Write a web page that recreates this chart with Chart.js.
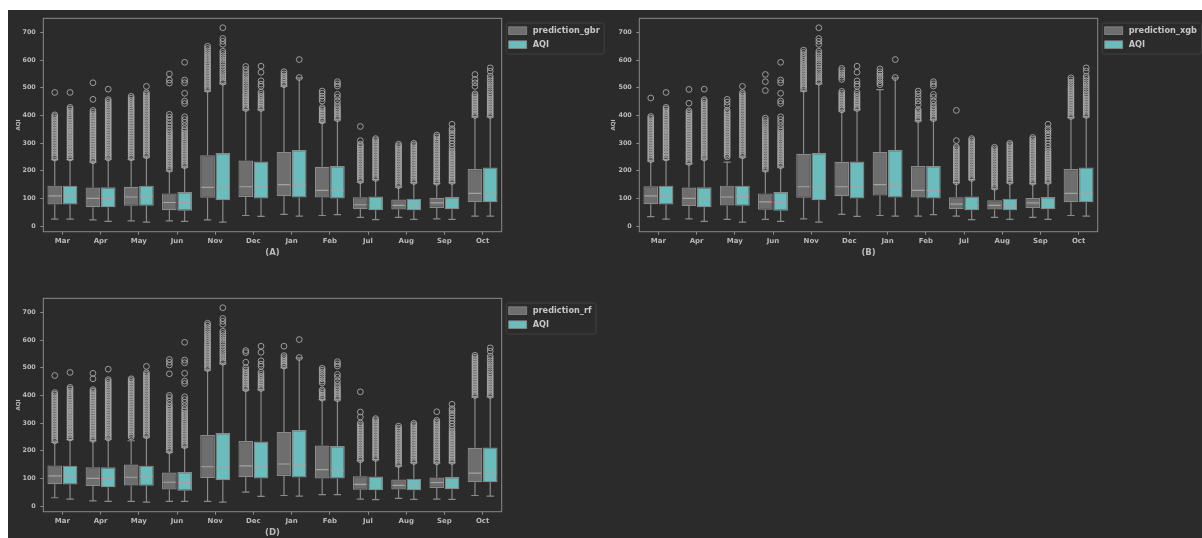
<!DOCTYPE html>
<html>
<head>
<meta charset="utf-8">
<script src="https://cdn.jsdelivr.net/npm/chart.js@4.4.1/dist/chart.umd.min.js"></script>
<style>
  html, body { margin: 0; padding: 0; background: #ffffff; width: 1202px; height: 538px; overflow: hidden; }
  #stage { position: absolute; left: 8px; top: 10px; width: 1194px; height: 528px; background: #2b2b2b; }
  .panel { position: absolute; }
  canvas { display: block; }
</style>
</head>
<body>
<div id="stage"></div>
<div class="panel" style="left:8px;top:10px;"><canvas id="chartA" width="597" height="248"></canvas></div>
<div class="panel" style="left:603px;top:10px;"><canvas id="chartB" width="599" height="248"></canvas></div>
<div class="panel" style="left:8px;top:290px;"><canvas id="chartD" width="597" height="248"></canvas></div>
<script>
// Months in plotting order
const months = ['Mar', 'Apr', 'May', 'Jun', 'Nov', 'Dec', 'Jan', 'Feb', 'Jul', 'Aug', 'Sep', 'Oct'];
const yTicks = [0, 100, 200, 300, 400, 500, 600, 700];

// Observed AQI: whisker ends, quartiles, medians, outliers
const aqiLo  = [25, 17, 14, 17, 14, 35, 36, 41, 23, 24, 24, 36];
const aqiQ1  = [78, 68, 73, 55, 93, 100, 103, 100, 57, 57, 61, 86];
const aqiMed = [109, 100, 107, 85, 140, 142, 148, 128, 74, 75, 82, 118];
const aqiQ3  = [146, 140, 146, 123, 264, 233, 275, 217, 107, 99, 105, 212];
const aqiHi  = [240, 242, 249, 213, 514, 420, 536, 384, 168, 156, 156, 395];
const aqiOut = [
  [246,251,257,262,268,274,279,285,291,296,302,308,313,319,325,331,336,342,348,353,359,365,371,377,383,389,395,402,409,416,423,429,483],
  [246,252,258,263,269,275,281,287,293,299,305,311,317,323,329,335,341,347,353,359,365,371,377,383,389,395,401,407,413,419,425,431,438,444,451,457,495],
  [254,260,266,272,278,284,290,296,302,308,314,320,326,332,338,344,350,356,362,368,374,380,386,392,398,404,410,416,422,428,434,440,446,452,458,464,470,476,482,505],
  [218,224,230,236,242,248,254,260,266,272,278,284,290,296,302,308,315,322,329,336,344,352,363,375,385,395,443,452,480,518,528,592],
  [520,527,535,543,551,558,566,575,584,592,600,608,616,624,632,657,668,678,717],
  [425,431,437,443,449,455,462,469,476,484,505,513,525,556,578],
  [537,602],
  [388,394,400,406,412,418,424,431,440,452,466,476,506,514,522],
  [172,178,184,190,196,202,208,214,220,226,232,238,244,250,256,262,268,274,280,286,292,298,304,310,316],
  [161,167,173,179,185,191,197,203,209,215,221,227,233,239,245,251,257,263,269,275,281,287,293,299],
  [161,167,173,179,185,191,197,203,209,215,221,227,233,239,245,251,257,263,270,278,288,298,308,318,328,337,345,352,368],
  [400,406,412,418,424,430,436,442,448,454,460,466,472,478,486,494,502,510,518,526,534,542,560,572]
];

// Gradient boosting predictions
const gbrLo  = [25, 22, 19, 19, 22, 38, 42, 38, 31, 31, 26, 36];
const gbrQ1  = [78, 68, 73, 57, 102, 105, 108, 103, 61, 60, 65, 86];
const gbrMed = [109, 100, 105, 85, 140, 142, 150, 129, 77, 75, 84, 118];
const gbrQ3  = [146, 139, 142, 118, 256, 237, 268, 214, 104, 96, 102, 206];
const gbrHi  = [240, 231, 240, 199, 488, 420, 506, 375, 159, 141, 153, 395];
const gbrOut = [
  [246,252,258,264,270,276,282,288,294,300,306,312,318,324,330,336,342,348,354,360,366,372,378,384,390,396,402,483],
  [236,242,248,254,260,266,272,278,284,290,296,302,308,314,320,326,332,338,344,350,356,362,368,374,380,386,392,398,404,411,418,458,518],
  [247,253,259,265,271,277,283,289,295,301,307,313,319,325,331,337,343,349,355,361,367,373,379,385,391,397,403,409,415,421,427,434,441,448,455,462,469],
  [205,211,217,223,229,235,241,247,253,259,265,271,277,283,289,295,301,307,313,319,325,331,337,344,352,362,372,383,394,404,517,528,550],
  [494,500,506,512,518,524,530,536,542,548,554,560,566,572,578,584,590,597,604,611,618,626,634,642,650],
  [425,431,437,443,449,455,461,467,473,479,486,493,500,508,516,524,532,540,547,556,566,577],
  [511,517,523,529,536,543,550,558],
  [380,386,392,398,404,410,416,422,428,452,461,470,480,488],
  [164,170,176,182,188,194,200,206,212,218,224,230,236,242,248,254,260,266,272,278,284,290,296,309,360],
  [146,152,158,164,170,176,182,188,194,200,206,212,218,224,230,236,242,248,254,260,266,272,278,284,290,296],
  [158,164,170,176,182,188,194,200,206,212,218,224,230,236,242,248,254,260,266,272,278,284,290,296,302,308,315,322,329],
  [400,406,412,418,424,430,436,442,448,454,460,466,472,478,505,518,530,548]
];

// XGBoost predictions
const xgbLo  = [34, 26, 24, 24, 26, 42, 38, 36, 36, 31, 31, 38];
const xgbQ1  = [79, 72, 74, 59, 102, 108, 110, 103, 61, 60, 65, 86];
const xgbMed = [109, 100, 105, 87, 142, 142, 150, 129, 79, 75, 84, 118];
const xgbQ3  = [144, 139, 146, 118, 261, 232, 268, 217, 104, 93, 101, 206];
const xgbHi  = [235, 225, 231, 199, 488, 416, 493, 380, 157, 134, 153, 392];
const xgbOut = [
  [240,246,252,258,264,270,276,282,288,294,300,306,312,318,324,330,336,342,348,354,360,366,372,378,384,390,396,463],
  [230,236,242,248,254,260,266,272,278,284,290,296,302,308,314,320,326,332,338,344,350,356,362,368,374,380,386,392,398,404,410,416,444,494],
  [250,256,262,268,274,280,286,292,298,304,310,316,322,328,334,340,346,352,358,364,370,376,382,388,394,400,406,412,419,436,448,458],
  [205,211,217,223,229,235,241,247,253,259,265,271,277,283,289,295,301,307,313,319,325,331,337,343,350,358,366,374,382,390,490,522,548],
  [495,501,507,513,519,525,531,537,543,549,555,561,567,573,579,585,592,599,606,613,620,628,636],
  [420,426,432,438,444,450,456,462,468,474,480,487,530,538,546,554,562,570],
  [511,518,526,534,542,550,558,568],
  [385,391,397,403,409,415,421,440,452,465,478,488],
  [160,166,172,178,184,190,196,202,208,214,220,226,232,238,244,250,256,262,268,274,280,286,309,418],
  [140,146,152,158,164,170,176,182,188,194,200,206,212,218,224,230,236,242,248,254,260,266,272,278,285],
  [158,164,170,176,182,188,194,200,206,212,218,224,230,236,242,248,254,260,266,272,278,284,290,296,302,308,314,320],
  [396,402,408,414,420,426,432,438,444,450,456,462,468,474,480,486,492,498,505,512,520,528,536]
];

// Random forest predictions
const rfLo  = [30, 19, 17, 17, 17, 50, 38, 41, 25, 28, 25, 38];
const rfQ1  = [79, 72, 74, 60, 101, 104, 109, 100, 59, 60, 65, 86];
const rfMed = [109, 100, 104, 86, 142, 145, 152, 132, 78, 75, 85, 119];
const rfQ3  = [147, 140, 150, 121, 257, 235, 268, 219, 108, 96, 103, 211];
const rfHi  = [230, 236, 236, 194, 491, 419, 500, 385, 164, 144, 156, 394];
const rfOut = [
  [236,242,248,254,260,266,272,278,284,290,296,302,308,314,320,326,332,338,344,350,356,362,368,374,380,386,392,398,404,410,472],
  [241,247,253,259,265,271,277,283,289,295,301,307,313,319,325,331,337,343,349,355,361,367,373,379,385,391,397,403,409,415,421,460,480],
  [250,256,262,268,274,280,286,292,298,304,310,316,322,328,334,340,346,352,358,364,370,376,382,388,394,400,406,412,418,424,430,436,442,448,454,460],
  [200,206,212,218,224,230,236,242,248,254,260,266,272,278,284,290,296,302,308,314,320,326,332,338,344,350,356,362,370,380,392,400,478,510,520,530],
  [497,503,509,515,521,527,533,539,545,551,557,563,569,575,581,587,594,601,608,615,622,630,638,646,654,661],
  [424,430,436,442,448,454,460,466,472,478,485,492,500,520,555,562],
  [506,512,518,524,530,537,544,578],
  [390,396,402,408,414,420,445,452,460,468,476,484,491,498],
  [167,173,179,185,191,197,203,209,215,221,227,233,239,245,251,257,263,269,275,281,287,293,300,322,340,413],
  [150,156,162,168,174,180,186,192,198,204,210,216,222,228,234,240,246,252,258,264,270,276,282,289],
  [160,166,172,178,184,190,196,202,208,214,220,226,232,238,244,250,256,262,268,274,280,286,292,298,304,310,341],
  [400,406,412,418,424,430,436,442,448,454,460,466,472,478,484,490,496,502,508,514,520,526,532,538,545]
];

// Palette
const GRAY_FILL = '#6e6e6e';
const TEAL_FILL = '#6bbcbc';
const EDGE = '#8a8a8a';
const MEDIAN = '#a3a3a3';
const FLIER = '#a8a8a8';
const TEXT = '#bababa';
const FONT = "'DejaVu Sans', sans-serif";

// Whiskers, medians, fliers, frame and legend drawn on top of the floating bars
const boxPlotPlugin = {
  id: 'boxPlotExtras',
  afterDatasetsDraw(chart) {
    const ctx = chart.ctx;
    const ys = chart.scales.y;
    const area = chart.chartArea;
    ctx.save();
    ctx.beginPath();
    ctx.rect(area.left, area.top, area.right - area.left, area.bottom - area.top);
    ctx.clip();
    chart.data.datasets.forEach((ds, i) => {
      const meta = chart.getDatasetMeta(i);
      meta.data.forEach((bar, j) => {
        const x = bar.x;
        const half = bar.width / 2;
        const pq1 = ys.getPixelForValue(ds.q1[j]);
        const pq3 = ys.getPixelForValue(ds.q3[j]);
        const plo = ys.getPixelForValue(ds.lo[j]);
        const phi = ys.getPixelForValue(ds.hi[j]);
        const pmed = ys.getPixelForValue(ds.med[j]);
        ctx.strokeStyle = EDGE;
        ctx.lineWidth = 1.2;
        ctx.beginPath();
        ctx.moveTo(x, pq1); ctx.lineTo(x, plo);
        ctx.moveTo(x - half / 2, plo); ctx.lineTo(x + half / 2, plo);
        ctx.moveTo(x, pq3); ctx.lineTo(x, phi);
        ctx.moveTo(x - half / 2, phi); ctx.lineTo(x + half / 2, phi);
        ctx.stroke();
        ctx.strokeStyle = MEDIAN;
        ctx.lineWidth = 1.2;
        ctx.beginPath();
        ctx.moveTo(x - half + 1, pmed); ctx.lineTo(x + half - 1, pmed);
        ctx.stroke();
        ctx.strokeStyle = FLIER;
        ctx.lineWidth = 0.9;
        ds.out[j].forEach(v => {
          const py = ys.getPixelForValue(v);
          ctx.beginPath();
          ctx.arc(x, py, 2.9, 0, Math.PI * 2);
          ctx.stroke();
        });
      });
    });
    ctx.restore();
  },
  afterDraw(chart) {
    const ctx = chart.ctx;
    const a = chart.chartArea;
    ctx.save();
    // axes frame
    ctx.strokeStyle = '#8a8a8a';
    ctx.lineWidth = 1;
    ctx.strokeRect(a.left, a.top, a.right - a.left, a.bottom - a.top);
    // legend
    ctx.font = "bold 8.2px " + FONT;
    const labels = chart.data.datasets.map(d => d.label);
    const tw = Math.max(...labels.map(t => ctx.measureText(t).width));
    const lx = a.right + 4.5;
    const ly = a.top + 4.7;
    const lw = 2.5 + 18 + 6 + tw + 4.5;
    const lh = 31;
    ctx.strokeStyle = '#404040';
    ctx.lineWidth = 1;
    ctx.beginPath();
    if (ctx.roundRect) ctx.roundRect(lx, ly, lw, lh, 2); else ctx.rect(lx, ly, lw, lh);
    ctx.stroke();
    chart.data.datasets.forEach((d, i) => {
      const cy = ly + 7.6 + i * 14;
      ctx.fillStyle = d.backgroundColor;
      ctx.fillRect(lx + 2.5, cy - 3.8, 18, 7.6);
      ctx.strokeStyle = EDGE;
      ctx.lineWidth = 0.8;
      ctx.strokeRect(lx + 2.5, cy - 3.8, 18, 7.6);
      ctx.fillStyle = '#c6c6c6';
      ctx.textBaseline = 'middle';
      ctx.textAlign = 'left';
      ctx.fillText(d.label, lx + 26.5, cy + 0.5);
    });
    ctx.restore();
  }
};

function makeDataset(label, color, lo, q1, med, q3, hi, out) {
  return {
    label: label,
    data: q1.map((v, i) => [v, q3[i]]),
    backgroundColor: color,
    borderColor: EDGE,
    borderWidth: 1.2,
    borderSkipped: false,
    categoryPercentage: 0.8,
    barPercentage: 0.96,
    lo: lo, q1: q1, med: med, q3: q3, hi: hi, out: out
  };
}

function makePanel(canvasId, predLabel, pred, title, geom) {
  const ctx = document.getElementById(canvasId);
  return new Chart(ctx, {
    type: 'bar',
    data: {
      labels: months,
      datasets: [
        makeDataset(predLabel, GRAY_FILL, pred.lo, pred.q1, pred.med, pred.q3, pred.hi, pred.out),
        makeDataset('AQI', TEAL_FILL, aqiLo, aqiQ1, aqiMed, aqiQ3, aqiHi, aqiOut)
      ]
    },
    options: {
      responsive: false,
      animation: false,
      events: [],
      layout: { padding: { left: 0, right: geom.padRight, top: geom.padTop, bottom: 0 } },
      plugins: { legend: { display: false }, tooltip: { enabled: false } },
      scales: {
        x: {
          type: 'category',
          offset: true,
          grid: { display: true, drawOnChartArea: false, drawTicks: true, tickLength: 3, color: '#8a8a8a', offset: false },
          border: { display: false },
          ticks: { color: TEXT, font: { family: FONT, size: 7, weight: 'bold' }, padding: 2, maxRotation: 0, autoSkip: false },
          title: { display: true, text: title, color: TEXT, font: { family: FONT, size: 8.5, weight: 'bold' }, padding: { top: 0, bottom: 0 } },
          afterFit(scale) { scale.height = geom.xHeight; }
        },
        y: {
          type: 'linear',
          min: -20.5,
          max: 751,
          afterBuildTicks(scale) { scale.ticks = yTicks.map(v => ({ value: v })); },
          grid: { display: true, drawOnChartArea: false, drawTicks: true, tickLength: 3, color: '#8a8a8a' },
          border: { display: false },
          ticks: { color: TEXT, font: { family: FONT, size: 6.4, weight: 'bold' }, padding: 4.5 },
          title: { display: true, text: 'AQI', color: TEXT, font: { family: FONT, size: 5.6, weight: 'bold' }, padding: { top: 7.5, bottom: 0 } },
          afterFit(scale) { scale.width = geom.yWidth; }
        }
      }
    },
    plugins: [boxPlotPlugin]
  });
}

makePanel('chartA', 'prediction_gbr',
  { lo: gbrLo, q1: gbrQ1, med: gbrMed, q3: gbrQ3, hi: gbrHi, out: gbrOut },
  '(A)', { padRight: 103.3, padTop: 7, yWidth: 35.3, xHeight: 26.3 });

makePanel('chartB', 'prediction_xgb',
  { lo: xgbLo, q1: xgbQ1, med: xgbMed, q3: xgbQ3, hi: xgbHi, out: xgbOut },
  '(B)', { padRight: 104.3, padTop: 7, yWidth: 36.3, xHeight: 26.3 });

makePanel('chartD', 'prediction_rf',
  { lo: rfLo, q1: rfQ1, med: rfMed, q3: rfQ3, hi: rfHi, out: rfOut },
  '(D)', { padRight: 103.3, padTop: 6.7, yWidth: 35.3, xHeight: 26.3 });
</script>
</body>
</html>
